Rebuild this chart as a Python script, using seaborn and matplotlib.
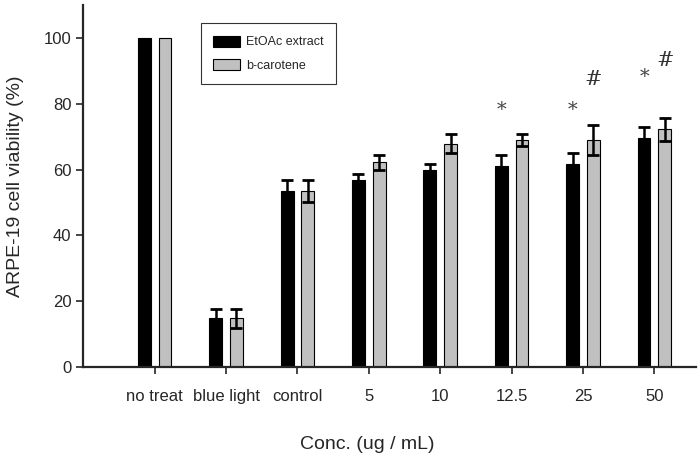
import pandas as pd
import seaborn as sns
import matplotlib.pyplot as plt

groups = ["no treat", "blue light", "control", "5", "10", "12.5", "25", "50"]
extract_mean = [100, 14.8, 53.5, 57.0, 59.9, 61.1, 61.8, 69.5]
extract_sd = [0, 2.9, 3.3, 1.7, 1.8, 3.2, 3.2, 3.5]
carotene_mean = [100, 14.8, 53.5, 62.2, 67.9, 69.0, 69.0, 72.2]
carotene_sd = [0, 2.8, 3.3, 2.2, 3.0, 1.7, 4.6, 3.6]
star_groups = ["12.5", "25", "50"]
star_heights = [78, 78, 88]
hash_groups = ["25", "50"]
hash_heights = [87.5, 93]

series = ["EtOAc extract", "b-carotene"]

df = pd.concat([
    pd.DataFrame({"group": groups, "value": extract_mean, "sd": extract_sd, "series": series[0]}),
    pd.DataFrame({"group": groups, "value": carotene_mean, "sd": carotene_sd, "series": series[1]}),
])

sns.set_style("ticks")
plt.rcParams["font.family"] = ["Liberation Sans", "DejaVu Sans"]

fig, ax = plt.subplots(figsize=(7, 4.55), dpi=100)
fig.subplots_adjust(left=0.119, right=0.994, bottom=0.193, top=0.989)

sns.barplot(
    data=df, x="group", y="value", hue="series", order=groups, hue_order=series,
    palette=["black", "#c0c0c0"], width=0.58, gap=0.38, errorbar=None,
    edgecolor="black", linewidth=0.8, ax=ax,
)

# error bars on top of each bar, placed at the bar centres seaborn drew
bars = ax.patches[: len(groups) * 2]
centres = {}
for i, s in enumerate(series):
    sub = df[df["series"] == s]
    for j, (v, e) in enumerate(zip(sub["value"], sub["sd"])):
        p = bars[i * len(groups) + j]
        cx = p.get_x() + p.get_width() / 2
        centres[(s, groups[j])] = cx
        if e > 0:
            ax.errorbar(cx, v, yerr=e, color="black", elinewidth=1.8,
                        capsize=4.5, capthick=2, zorder=5)

for g, h in zip(star_groups, star_heights):
    ax.text(centres[(series[0], g)], h, "*", ha="center", va="center",
            fontsize=14, family="DejaVu Serif", color="#444444")
for g, h in zip(hash_groups, hash_heights):
    ax.text(centres[(series[1], g)], h, "#", ha="center", va="center",
            fontsize=15, family="DejaVu Serif", color="#333333")

ax.set_ylim(0, 110)
ax.set_xlim(-1.0, 7.58)
ax.set_yticks([0, 20, 40, 60, 80, 100])
ax.tick_params(axis="both", labelsize=12, length=5, width=1.2, direction="out")
ax.tick_params(axis="x", pad=11)
ax.set_xlabel("Conc. (ug / mL)", fontsize=14)
ax.xaxis.set_label_coords(0.463, -0.19)
ax.set_ylabel("ARPE-19 cell viability (%)", fontsize=14)
ax.yaxis.set_label_coords(-0.096, 0.5)
for side in ["top", "right"]:
    ax.spines[side].set_visible(False)
for side in ["left", "bottom"]:
    ax.spines[side].set_linewidth(1.6)

leg = ax.legend(loc="upper left", bbox_to_anchor=(0.192, 0.95), fontsize=9,
                frameon=True, fancybox=False, edgecolor="black",
                handlelength=2.1, handleheight=1.0, handletextpad=0.5,
                borderpad=1.0, labelspacing=0.85, borderaxespad=0)
leg.get_frame().set_linewidth(0.8)

plt.savefig("out.png")
